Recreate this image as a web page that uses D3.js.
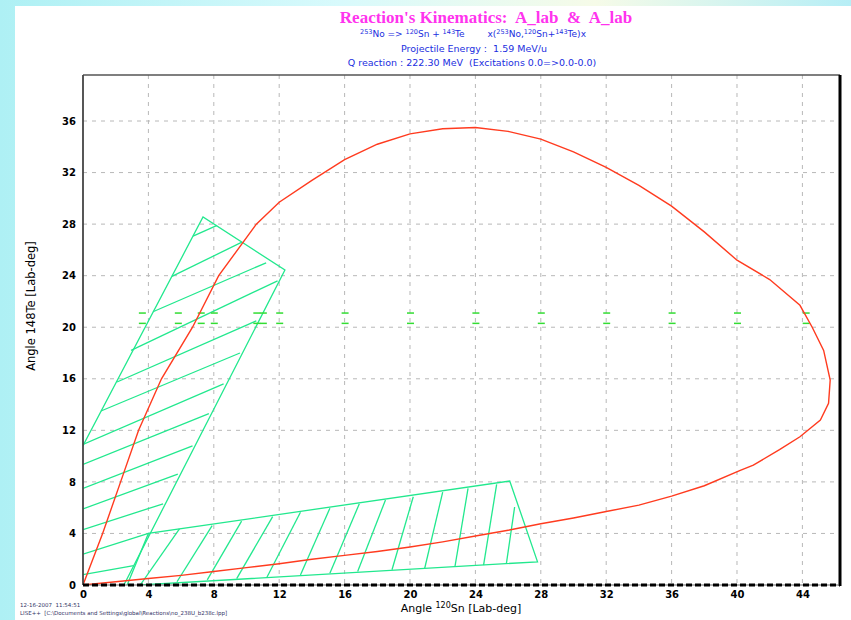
<!DOCTYPE html>
<html><head><meta charset="utf-8">
<script src="https://cdn.jsdelivr.net/npm/d3@7"></script>
<style>
html,body{margin:0;padding:0;}
body{width:851px;height:620px;overflow:hidden;background:linear-gradient(90deg,#aef0f4 0%,#d8fafc 40%,#f6fbe8 70%,#b6eef6 100%);}
text{white-space:pre;}
</style></head>
<body>
<svg id="c" width="851" height="620"></svg>
<script>
// ---------- data ----------
const xTicks = [0,4,8,12,16,20,24,28,32,36,40,44];
const yTicks = [0,4,8,12,16,20,24,28,32,36];
// red kinematic locus: [angle Sn, angle Te]
const locusX = [0,1.2,2.3,3.4,4.8,6.7,8.3,10.6,12,14,16,18,20,22,24,26,28,30,32,34,36,38,40,42,43.85,44.6,45.3,45.7,45.6,45.1,43.85,42.6,41,40.2,38,36,34,32,30,28,26,24,22,20,18,16,14,12,10,8,6,4,2,0];
const locusY = [0,4,8,12,16,20,24,28,29.7,31.4,33.0,34.2,35.0,35.4,35.5,35.2,34.6,33.6,32.4,31.0,29.4,27.4,25.2,23.7,21.7,20.0,18.2,15.9,14.1,12.8,11.5,10.5,9.3,8.9,7.7,6.9,6.2,5.7,5.2,4.75,4.25,3.8,3.35,2.95,2.6,2.3,2.0,1.65,1.35,1.05,0.75,0.5,0.25,0];
// upper acceptance region outline (open polyline) & hatch segments [x1,y1,x2,y2]
const upperOutline = [[-1.0,8.4],[7.34,28.55],[12.35,24.44],[2.5,0]];
const upperHatch = [
 [6.73,27.07,8.2,27.9],[5.44,23.95,9.72,26.6],[4.28,21.2,11.2,25.0],[2.94,18.2,11.9,23.6],
 [2.08,15.75,10.6,20.5],[1.1,13.5,9.6,18.0],[0,10.9,8.6,15.6],[0,9.35,7.7,13.3],
 [0,7.5,6.7,10.8],[0,5.9,5.8,8.6],[0,4.3,4.9,6.3],[0,2.4,4.0,4.0],[0,0.8,3.1,1.5]
];
// lower acceptance region outline & hatch segments
const lowerOutline = [[2.7,0],[4.0,4.0],[26.1,8.07],[27.8,1.8],[3.5,0]];
const lowerHatch = [
 [3.5,0,5.9,4.35],[5.75,0.25,7.9,4.6],[7.6,0.4,9.7,4.95],[9.4,0.5,11.6,5.3],
 [11.25,0.6,13.3,5.65],[13.3,0.78,15.1,5.95],[15.1,0.92,16.9,6.3],[16.8,1.05,18.5,6.6],
 [18.9,1.18,20.2,6.85],[20.9,1.3,22.0,7.2],[22.75,1.42,23.55,7.5],[24.5,1.55,25.3,7.8],
 [26.4,6.05,25.9,1.7]
];
// small green markers near Te angle ~21
const markX = [3.6,5.8,7.2,8,10.6,11,12,16,20,24,28,32,36,40,44.2];
const markYHi = 21.1, markYLo = 20.3;

// ---------- drawing ----------
const svg = d3.select("#c");
svg.append("rect").attr("x",15).attr("y",6).attr("width",836).attr("height",614).attr("fill","#fff");

const L=83,R=840,T=75,B=585;
const x = d3.scaleLinear().domain([0,46.3]).range([L,R]);
const y = d3.scaleLinear().domain([0,39.57]).range([B,T]);

svg.append("clipPath").attr("id","pc").append("rect").attr("x",L).attr("y",T).attr("width",R-L).attr("height",B-T);

// grid
const g = svg.append("g");
g.selectAll("line.vg").data(xTicks.slice(1)).enter().append("line")
 .attr("x1",d=>x(d)).attr("x2",d=>x(d)).attr("y1",T).attr("y2",B)
 .attr("stroke","#b8b8b8").attr("stroke-dasharray","4,5").attr("stroke-width",1);
g.selectAll("line.hg").data(yTicks.slice(1)).enter().append("line")
 .attr("x1",L).attr("x2",R).attr("y1",d=>y(d)).attr("y2",d=>y(d))
 .attr("stroke","#b8b8b8").attr("stroke-dasharray","4,5").attr("stroke-width",1);

// axes ticks labels
const xAxis = d3.axisBottom(x).tickValues(xTicks).tickSize(0).tickPadding(6);
const xa = svg.append("g").attr("transform",`translate(0,${B})`).call(xAxis);
xa.select(".domain").remove();
xa.selectAll("text").attr("font-family","DejaVu Sans").attr("font-size",10).attr("font-weight","bold").attr("fill","#000");
const yAxis = d3.axisLeft(y).tickValues(yTicks).tickSize(0).tickPadding(7);
const ya = svg.append("g").attr("transform",`translate(${L},0)`).call(yAxis);
ya.select(".domain").remove();
ya.selectAll("text").attr("font-family","DejaVu Sans").attr("font-size",10).attr("font-weight","bold").attr("fill","#000");

const plot = svg.append("g").attr("clip-path","url(#pc)");
const green = "#22e88e";
const poly = d3.line().x(d=>x(d[0])).y(d=>y(d[1]));
plot.append("path").datum(upperOutline).attr("d",d=>poly(d)).attr("fill","none").attr("stroke",green).attr("stroke-width",1.3);
plot.append("path").datum(lowerOutline).attr("d",d=>poly(d)).attr("fill","none").attr("stroke",green).attr("stroke-width",1.3);
plot.selectAll("line.uh").data(upperHatch.concat(lowerHatch)).enter().append("line")
 .attr("x1",d=>x(d[0])).attr("y1",d=>y(d[1])).attr("x2",d=>x(d[2])).attr("y2",d=>y(d[3]))
 .attr("stroke",green).attr("stroke-width",1.3);

// markers
[markYHi,markYLo].forEach(my=>{
 plot.selectAll(null).data(markX).enter().append("line")
  .attr("x1",d=>x(d)-3).attr("x2",d=>x(d)+4).attr("y1",y(my)).attr("y2",y(my))
  .attr("stroke","#33dd33").attr("stroke-width",1.5);
});

// red locus
const locus = locusX.map((v,i)=>[v,locusY[i]]);
plot.append("path").datum(locus).attr("d",d3.line().x(d=>x(d[0])).y(d=>y(d[1])))
 .attr("fill","none").attr("stroke","#ff3b1f").attr("stroke-width",1.4);

// frame
svg.append("line").attr("x1",L).attr("x2",R).attr("y1",T).attr("y2",T).attr("stroke","#555").attr("stroke-width",1.5);
svg.append("line").attr("x1",L).attr("x2",L).attr("y1",T).attr("y2",B).attr("stroke","#444").attr("stroke-width",1.8);
svg.append("line").attr("x1",R).attr("x2",R).attr("y1",T).attr("y2",B+1).attr("stroke","#000").attr("stroke-width",3);
svg.append("line").attr("x1",L).attr("x2",R).attr("y1",B).attr("y2",B).attr("stroke","#666").attr("stroke-width",1);
svg.append("line").attr("x1",L).attr("x2",R).attr("y1",B).attr("y2",B).attr("stroke","#000").attr("stroke-width",3).attr("stroke-dasharray","6,3");

// titles
svg.append("text").attr("x",486).attr("y",23).attr("text-anchor","middle")
 .attr("font-family","Liberation Serif").attr("font-weight","bold").attr("font-size",17).attr("fill","#ff33ee")
 .text("Reaction's Kinematics:  A_lab  &  A_lab");
const blue="#1a2ee0";
const st = svg.append("text").attr("x",473).attr("y",37).attr("text-anchor","middle")
 .attr("font-family","DejaVu Sans").attr("font-size",9).attr("fill",blue);
function sup(t,s){t.append("tspan").attr("font-size",6.5).attr("dy",-3).text(s);}
function nor(t,s){t.append("tspan").attr("font-size",9).attr("dy",3).text(s);}
sup(st,"253");nor(st,"No => ");sup(st,"120");nor(st,"Sn + ");sup(st,"143");nor(st,"Te        x(");
sup(st,"253");nor(st,"No,");sup(st,"120");nor(st,"Sn+");sup(st,"143");nor(st,"Te)x");
svg.append("text").attr("x",474).attr("y",52).attr("text-anchor","middle")
 .attr("font-family","DejaVu Sans").attr("font-size",9.5).attr("fill",blue).text("Projectile Energy :  1.59 MeV/u");
svg.append("text").attr("x",472).attr("y",66).attr("text-anchor","middle")
 .attr("font-family","DejaVu Sans").attr("font-size",9.5).attr("fill",blue).text("Q reaction : 222.30 MeV  (Excitations 0.0=>0.0-0.0)");

// axis titles
const xt = svg.append("text").attr("x",461).attr("y",612).attr("text-anchor","middle")
 .attr("font-family","DejaVu Sans").attr("font-size",11).attr("fill","#000");
xt.append("tspan").text("Angle ");
xt.append("tspan").attr("font-size",8).attr("dy",-4).text("120");
xt.append("tspan").attr("dy",4).text("Sn [Lab-deg]");
svg.append("text").attr("transform","translate(35,306) rotate(-90)").attr("text-anchor","middle")
 .attr("font-family","DejaVu Sans").attr("font-size",11.5).attr("fill","#000").text("Angle 148Te [Lab-deg]");

// footer
svg.append("text").attr("x",20).attr("y",607).attr("font-family","DejaVu Sans").attr("font-size",5.5).attr("fill","#333366").text("12-16-2007  11:54:51");
svg.append("text").attr("x",20).attr("y",615).attr("font-family","DejaVu Sans").attr("font-size",5.5).attr("fill","#333366").text("LISE++  [C:\\Documents and Settings\\global\\Reactions\\no_238U_b238c.lpp]");
</script>
</body></html>
